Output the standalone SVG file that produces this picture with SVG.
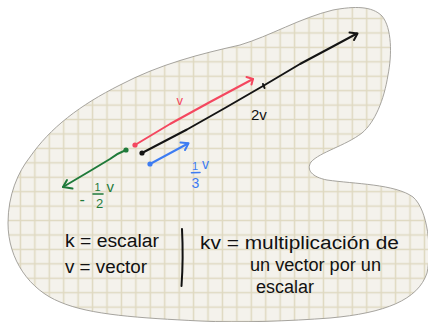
<svg xmlns="http://www.w3.org/2000/svg" width="428" height="322" viewBox="0 0 428 322">
  <defs>
    <pattern id="grid" patternUnits="userSpaceOnUse" x="-1.215" y="-3.115" width="14.43" height="14.43">
      <rect width="14.43" height="14.43" fill="#f4f2ec"/>
      <path d="M7.215 0V14.43M0 7.215H14.43" stroke="#dfd9c1" stroke-width="1.5" fill="none"/>
    </pattern>
    <style>
      .vec{fill:none;stroke-width:2;stroke-linecap:round;stroke-linejoin:round}
      .hw{font-family:"Liberation Sans","DejaVu Sans",sans-serif;fill:#111}
      .blk{stroke:#141414}.red{stroke:#f4475f}.grn{stroke:#1f7a3a}.blu{stroke:#3d7cf2}
    </style>
  </defs>
  <rect width="428" height="322" fill="#ffffff"/>
  <g id="paper">
    <path d="M8,223 C8,195 18,172 30,157 C50,128 80,105 120,85 C160,64 200,54 240,45 C270,36 300,18 333,10 C355,6 372,6 382,16 C392,28 392,55 388,75 C384,100 375,122 362,133 C345,146 320,152 311,162 C306,170 312,177 327,180 C355,184 395,184 413,197 C428,210 432,250 427,273 C418,300 385,313 330,318 C290,321 240,323 200,321 C140,318 90,315 60,302 C30,290 8,260 8,223 Z" fill="url(#grid)" stroke="#9c9a94" stroke-width="0.9"/>
  </g>
  <g id="connectors">
    <g id="vec-2v">
      <path class="vec blk" d="M142,153 L187,129.5 L225,108 L263,86 L300,64 L330,48 L357,33.5"/>
      <path class="vec blk" d="M349.5,32.5 L357.5,33.5 L354,40"/>
      <path class="vec blk" d="M263,84 L264.5,88"/>
      <circle cx="142" cy="153" r="2.6" fill="#141414"/>
    </g>
    <g id="vec-v">
      <path class="vec red" d="M135,145 L170,124 L210,102 L253,79"/>
      <path class="vec red" d="M246.5,77 L253,79 L251.5,84.5"/>
      <circle cx="135" cy="145" r="2.6" fill="#f4475f"/>
    </g>
    <g id="vec-half-neg">
      <path class="vec grn" d="M126,150 Q118,153 110,159 L90,171 L63,187"/>
      <path class="vec grn" d="M67,180 L63,187 L72.5,188.5"/>
      <circle cx="126" cy="150" r="2.6" fill="#1f7a3a"/>
    </g>
    <g id="vec-third">
      <path class="vec blu" d="M150,164 L188,143.5"/>
      <path class="vec blu" d="M180.5,142.5 L188.5,143.3 L185,150"/>
      <circle cx="150" cy="164" r="2.6" fill="#3d7cf2"/>
    </g>
  </g>
  <g id="labels">
    <text class="hw" x="176.5" y="105" font-size="13" style="fill:#f4475f">v</text>
    <text class="hw" x="251" y="120" font-size="15">2v</text>
    <g id="label-third">
      <text class="hw" x="192" y="169.5" font-size="11" style="fill:#3d7cf2">1</text>
      <path d="M191.5,172.7 L200,172.5" stroke="#3d7cf2" stroke-width="1.6" stroke-linecap="round"/>
      <text class="hw" x="191.5" y="188" font-size="14" style="fill:#3d7cf2">3</text>
      <text class="hw" x="202" y="168.5" font-size="14" style="fill:#3d7cf2">v</text>
    </g>
    <g id="label-half-neg">
      <text class="hw" x="79.5" y="205" font-size="16" style="fill:#1f7a3a">-</text>
      <text class="hw" x="94.5" y="191" font-size="11" style="fill:#1f7a3a">1</text>
      <path d="M93,194 L103,194" stroke="#1f7a3a" stroke-width="1.6" stroke-linecap="round"/>
      <text class="hw" x="96" y="208" font-size="13" style="fill:#1f7a3a">2</text>
      <text class="hw" x="106.5" y="192" font-size="15" style="fill:#1f7a3a">v</text>
    </g>
  </g>
  <g id="legend">
    <text class="hw" x="65" y="247" font-size="18" textLength="94" lengthAdjust="spacingAndGlyphs">k = escalar</text>
    <text class="hw" x="65" y="273" font-size="18" textLength="82" lengthAdjust="spacingAndGlyphs">v = vector</text>
    <path d="M182,229 Q183.5,258 181.5,286" fill="none" stroke="#111" stroke-width="2" stroke-linecap="round"/>
    <text class="hw" x="200" y="249" font-size="18" textLength="199" lengthAdjust="spacingAndGlyphs">kv = multiplicación de</text>
    <text class="hw" x="250" y="271" font-size="18" textLength="131" lengthAdjust="spacingAndGlyphs">un vector por un</text>
    <text class="hw" x="256" y="293" font-size="18" textLength="58" lengthAdjust="spacingAndGlyphs">escalar</text>
  </g>
</svg>
